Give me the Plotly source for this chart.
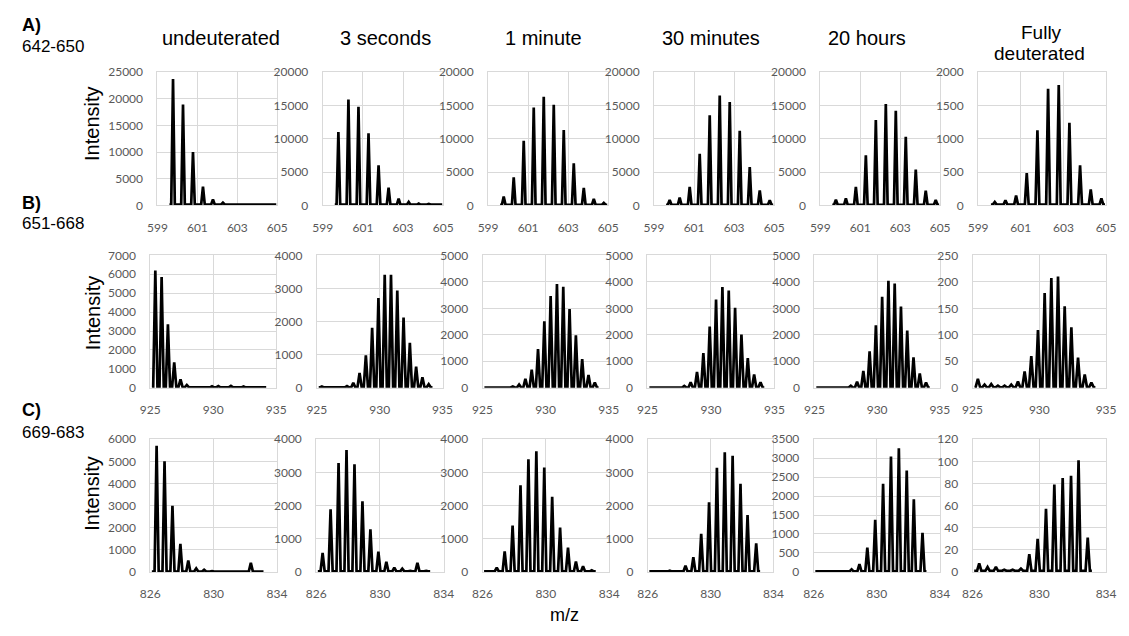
import plotly.graph_objects as go

# ---------------- data ----------------
col_titles = ["undeuterated", "3 seconds", "1 minute", "30 minutes", "20 hours"]
col_title_last = ["Fully", "deuterated"]
row_labels = ["A)", "B)", "C)"]
row_peptides = ["642-650", "651-668", "669-683"]

# Row A : peptide 642-650 (isotope peak centres, m/z)
A_mz = [599.78, 600.28, 600.78, 601.28, 601.78, 602.28, 602.78, 603.28, 603.78, 604.28, 604.78]
A_undeut = [23700, 18900, 10000, 3500, 1100, 480, 180, 160, 150, 150, 150]
A_3s = [11000, 15900, 14800, 10800, 6000, 2650, 1000, 500, 250, 200, 150]
A_1min = [1300, 4200, 9700, 14700, 16300, 15100, 11300, 6300, 2600, 950, 350]
A_30min = [800, 1150, 2750, 7750, 13500, 16500, 15500, 11200, 5750, 2250, 750]
A_20h = [850, 1050, 2750, 7500, 12800, 15200, 14200, 10300, 5350, 2200, 800]
A_full = [50, 75, 145, 485, 1125, 1750, 1805, 1240, 600, 240, 105]
A_base = [150, 100, 80, 80, 80, 10]
A_span = [599.6, 604.95]
A_xticks = [599, 601, 603, 605]
A_ymax = [25000, 20000, 20000, 20000, 20000, 2000]
A_ystep = [5000, 5000, 5000, 5000, 5000, 500]

# Row B : peptide 651-668
B_mz = [925.4, 925.9, 926.4, 926.9, 927.4, 927.9, 928.4, 928.9, 929.4,
        929.9, 930.4, 930.9, 931.4, 931.9, 932.4, 932.9, 933.4, 933.9]
B_undeut = [6200, 5850, 3350, 1350, 450, 150, 50, 40, 40, 80, 90, 40, 100, 40, 70, 20, 20, 10]
B_3s = [40, 15, 15, 20, 50, 150, 450, 980, 1810, 2710, 3410, 3410, 2940, 2120, 1360, 640, 320, 110]
B_1min = [25, 10, 10, 15, 50, 120, 340, 680, 1460, 2510, 3460, 3920, 3810, 2970, 1980, 1080, 480, 200]
B_30min = [25, 10, 10, 15, 20, 70, 210, 600, 1310, 2310, 3330, 3800, 3670, 3020, 2010, 1120, 500, 210]
B_20h = [20, 10, 10, 10, 20, 75, 230, 640, 1380, 2360, 3440, 4040, 3940, 3070, 2160, 1150, 540, 200]
B_full = [17, 6, 7, 4, 4, 6, 12, 31, 60, 109, 179, 207, 210, 154, 114, 57, 25, 10]
B_base = [20, 10, 10, 10, 10, 1]
B_span = [925.15, 934.2]
B_xticks = [925, 930, 935]
B_ymax = [7000, 4000, 5000, 5000, 5000, 250]
B_ystep = [1000, 1000, 1000, 1000, 1000, 50]

# Row C : peptide 669-683
C_mz = [826.4, 826.9, 827.4, 827.9, 828.4, 828.9, 829.4, 829.9, 830.4, 830.9, 831.4, 831.9, 832.35, 832.9]
C_undeut = [5700, 5000, 2990, 1270, 520, 160, 100, 40, 30, 20, 40, 20, 410, 20]
C_3s = [570, 1890, 3285, 3675, 3245, 2127, 1284, 608, 304, 127, 98, 30, 275, 30]
C_1min = [30, 127, 618, 1400, 2608, 3392, 3637, 3147, 2265, 1333, 730, 314, 170, 50]
C_30min = [20, 10, 40, 20, 186, 441, 1147, 2098, 3137, 3608, 3500, 2657, 1716, 863]
C_20h = [5, 5, 10, 15, 69, 206, 643, 1373, 2325, 3046, 3260, 2676, 1913, 1029]
C_full = [7.6, 4.4, 4.4, 2, 2, 3, 16, 30, 57, 79, 85, 87, 101, 31]
C_base = [15, 15, 15, 15, 15, 1]
C_span = [826.1, 833.15]
C_xticks = [826, 830, 834]
C_ymax = [6000, 4000, 4000, 4000, 3500, 120]
C_ystep = [1000, 1000, 1000, 1000, 500, 20]

rows = [
    dict(mz=A_mz, series=[A_undeut, A_3s, A_1min, A_30min, A_20h, A_full], base=A_base,
         span=A_span, xticks=A_xticks, ymax=A_ymax, ystep=A_ystep),
    dict(mz=B_mz, series=[B_undeut, B_3s, B_1min, B_30min, B_20h, B_full], base=B_base,
         span=B_span, xticks=B_xticks, ymax=B_ymax, ystep=B_ystep),
    dict(mz=C_mz, series=[C_undeut, C_3s, C_1min, C_30min, C_20h, C_full], base=C_base,
         span=C_span, xticks=C_xticks, ymax=C_ymax, ystep=C_ystep),
]

# ---------------- layout geometry (window pixels) ----------------
OX, OY = 8, 8            # default page margin around the figure div
W, H = 1129 - 2 * OX, 636 - 2 * OY


def px(x):
    return (x - OX) / W


def py(y):
    return 1 - (y - OY) / H


row_tb = [(65.5, 202), (253.3, 389), (441.7, 577.7)]
row_lr = [
    [(150, 272), (318.3, 441), (486.7, 609), (655.7, 778), (825, 947), (985.7, 1116)],
    [(142.7, 271), (312.3, 440.3), (481, 609.5), (649, 778.3), (819, 946.7), (980, 1116)],
    [(142.7, 271.7), (311.7, 441.5), (481, 610), (649.3, 777.3), (818.3, 946.7), (980, 1116)],
]
peak_hw = [0.09, 0.17, 0.13]

TICK_FONT = dict(family="Lato, Open Sans, sans-serif", size=12, color="#595959")
GRID = "#d9d9d9"


def spectrum(mz, h, x0, x1, base, hw):
    xs, ys = [x0], [base]
    for c, v in zip(mz, h):
        xs += [c - hw, c, c + hw]
        ys += [base, v, base]
    xs.append(x1)
    ys.append(base)
    return xs, ys


fig = go.Figure()
layout = {}
k = 0
for r, row in enumerate(rows):
    top, bot = row_tb[r]
    for c in range(6):
        k += 1
        left, right = row_lr[r][c]
        xs, ys = spectrum(row["mz"], row["series"][c], row["span"][0], row["span"][1],
                          row["base"][c], peak_hw[r])
        xa = "x" if k == 1 else f"x{k}"
        ya = "y" if k == 1 else f"y{k}"
        fig.add_trace(go.Scatter(x=xs, y=ys, mode="lines", xaxis=xa, yaxis=ya,
                                 line=dict(color="black", width=2.7), showlegend=False,
                                 hoverinfo="skip"))
        xkey = "xaxis" if k == 1 else f"xaxis{k}"
        ykey = "yaxis" if k == 1 else f"yaxis{k}"
        layout[xkey] = dict(domain=[px(left), px(right)], anchor=ya,
                            range=[row["xticks"][0], row["xticks"][-1]],
                            tickvals=row["xticks"], showgrid=True, gridcolor=GRID, gridwidth=1,
                            showline=True, mirror=True, linecolor=GRID, linewidth=1,
                            zeroline=False, ticks="", tickfont=TICK_FONT, ticklabelstandoff=11,
                            fixedrange=True)
        layout[ykey] = dict(domain=[py(bot), py(top)], anchor=xa,
                            range=[0, row["ymax"][c]], dtick=row["ystep"][c], tick0=0,
                            tickformat="d",
                            showgrid=True, gridcolor=GRID, gridwidth=1,
                            showline=True, mirror=True, linecolor=GRID, linewidth=1,
                            zeroline=False, ticks="", tickfont=TICK_FONT, ticklabelstandoff=11,
                            fixedrange=True)

TITLE_FONT = dict(family="Liberation Sans, Arial, sans-serif", size=20, color="black")
annotations = []
title_x = [215, 382, 543, 714, 873]
for t, x in zip(col_titles, title_x):
    annotations.append(dict(text=t, x=px(x), y=py(31), xref="paper", yref="paper",
                            xanchor="center", yanchor="middle", showarrow=False, font=TITLE_FONT))
LAST_FONT = dict(family="Liberation Sans, Arial, sans-serif", size=19, color="black")
annotations.append(dict(text=col_title_last[0], x=px(1050), y=py(25), xref="paper", yref="paper",
                        xanchor="center", yanchor="middle", showarrow=False, font=LAST_FONT))
annotations.append(dict(text=col_title_last[1], x=px(1048), y=py(46.5), xref="paper", yref="paper",
                        xanchor="center", yanchor="middle", showarrow=False, font=LAST_FONT))

lab_y = [17.5, 200, 412]
pep_y = [39.5, 221, 435]
int_y = [119, 313, 498]
for r in range(3):
    annotations.append(dict(text=f"<b>{row_labels[r]}</b>", x=px(10), y=py(lab_y[r]),
                            xref="paper", yref="paper", xanchor="left", yanchor="middle",
                            showarrow=False, font=dict(family="Liberation Sans, Arial", size=18, color="black")))
    annotations.append(dict(text=row_peptides[r], x=px(10), y=py(pep_y[r]),
                            xref="paper", yref="paper", xanchor="left", yanchor="middle",
                            showarrow=False, font=dict(family="Liberation Sans, Arial", size=17, color="black")))
    annotations.append(dict(text="Intensity", x=px(84), y=py(int_y[r]), textangle=-90,
                            xref="paper", yref="paper", xanchor="center", yanchor="middle",
                            showarrow=False, font=TITLE_FONT))
annotations.append(dict(text="m/z", x=px(565), y=py(622), xref="paper", yref="paper",
                        xanchor="center", yanchor="middle", showarrow=False,
                        font=dict(family="Liberation Sans, Arial", size=18, color="black")))

fig.update_layout(width=W, height=H, margin=dict(l=0, r=0, t=0, b=0),
                  paper_bgcolor="white", plot_bgcolor="white", annotations=annotations,
                  **layout)

fig.write_html("out.html", config={"displayModeBar": False})
